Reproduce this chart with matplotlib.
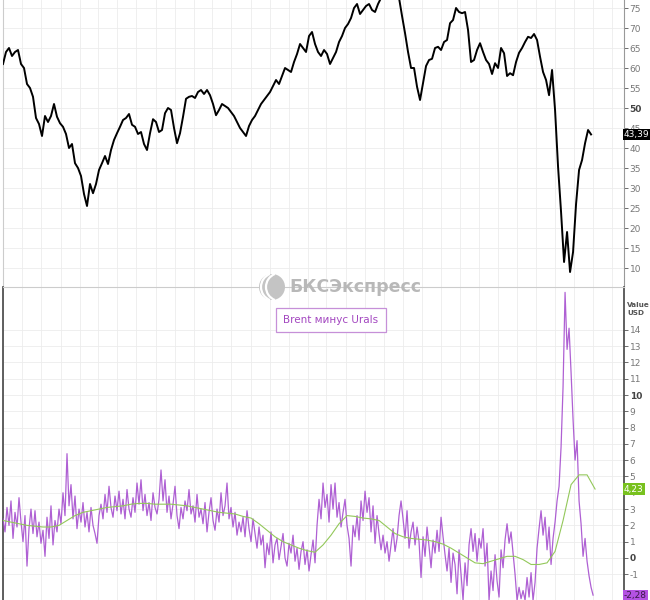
import numpy as np
import pandas as pd
import matplotlib.pyplot as plt
import matplotlib.dates as mdates
from matplotlib.patches import Ellipse, Arc

plt.rcParams["font.family"] = ["DejaVu Sans"]
plt.rcParams["axes.unicode_minus"] = False

# Urals, USD/bbl (about every 10 days)
urals = [61, 64, 65, 63, 64, 64.5, 61, 60, 56, 55,
         52.8, 47.5, 46, 43, 48, 46.5, 48, 51, 47.8, 46.2,
         45.3, 43.5, 40, 41, 36.2, 35, 33, 28.5, 25.5, 31,
         28.7, 31, 34.5, 36.2, 38, 36, 39.5, 42, 43.7, 45.3,
         47, 47.5, 48.5, 45.8, 45.3, 43.5, 44, 41, 39.5, 43.7,
         47.2, 46.5, 44, 44.5, 48.7, 50, 49.5, 45, 41.2, 43.7,
         47.8, 52.3, 52.8, 53, 52.5, 54, 54.5, 53.5, 54.5, 53.2,
         51, 48.2, 49.5, 51, 50.5, 50, 49, 48, 46.5, 45,
         44, 43, 45.5, 47, 48, 49.5, 51, 52, 53, 54,
         55.5, 57, 56, 58, 60, 59.5, 59, 61.5, 63.5, 66,
         65, 64, 68, 69, 66, 64, 63, 64.5, 63.5, 61,
         62.5, 64, 66.5, 68, 70, 71, 72.5, 75, 76, 73.5,
         74.5, 75.5, 76, 74.5, 74, 76, 77.5, 79, 80, 80.5,
         79, 78.5, 77.5, 73, 68.7, 64, 60, 60, 55.3, 52,
         56.2, 60.5, 62, 62.3, 65, 65.3, 64.5, 66.5, 67, 71.2,
         72, 75, 74, 73.7, 74, 69.5, 61.5, 62, 64.5, 66.2,
         64, 62, 61, 58.5, 61.2, 60, 65, 63.7, 58, 58.7,
         58.2, 61.5, 63.8, 65, 66.5, 67.8, 67.5, 68.5, 67, 62.8,
         59, 57, 53.2, 59.5, 49.5, 35.3, 24, 11.5, 19, 9,
         14, 26, 34.5, 37, 41.2, 44.5, 43.39]

# Brent minus Urals, USD (about every 6 days)
spread = [2.4, 1.6, 3.1, 2.0, 3.5, 1.2, 2.8, 1.9, 3.7, 2.2,
          1.0, 2.6, -0.5, 1.8, 3.0, 1.5, 2.9, 1.3, 2.2, 0.9,
          1.7, 0.1, 2.5, 1.2, 3.2, 0.8, 2.3, 1.6, 3.0, 2.1,
          4.0, 2.6, 6.4, 3.2, 4.5, 2.4, 3.8, 1.8, 3.0, 2.2,
          3.4, 1.9, 2.8, 1.6, 3.1, 2.0, 1.5, 0.9, 2.6, 3.3,
          2.4, 3.9, 2.8, 4.4, 3.1, 2.5, 3.8, 2.9, 4.1, 2.7,
          3.6, 2.4, 4.2, 3.0, 2.5, 3.7, 2.8, 4.6, 3.3, 4.8,
          2.9, 3.9, 2.6, 3.4, 2.3, 4.0, 3.1, 2.7, 3.6, 5.4,
          3.5, 4.8, 2.8, 3.8, 2.4, 3.3, 4.4, 2.6, 1.8, 3.1,
          2.4, 3.5, 2.9, 4.2, 2.7, 3.2, 2.2, 3.9, 2.5, 3.0,
          2.1, 3.4, 1.6, 2.8, 3.7, 2.3, 1.7, 3.0, 2.2, 4.0,
          2.6, 3.2, 4.6, 2.4, 3.1, 1.9, 2.8, 1.4, 2.2, 1.6,
          2.5, 1.3, 2.9, 1.8, 1.0, 2.4, 1.5, 0.6, 1.9, 0.8,
          1.4, -0.6, 0.9, 0.2, 1.6, -0.3, 0.8, 1.2, -0.1, 0.7,
          1.5, 0.0, -0.5, 0.9, 0.3, 1.4, -0.2, 0.6, -0.7, 0.4,
          1.0, -0.4, 0.5, -0.8, 0.2, 1.1, -0.3, 2.0, 3.6, 2.4,
          4.6, 3.1, 3.9, 2.2, 4.5, 3.0, 4.6, 2.5, 3.4, 1.9,
          2.8, 3.6, 2.0, 1.2, -0.5, 2.0, 1.3, 2.6, 1.1, 3.5,
          2.3, 4.1, 2.8, 3.7, 1.6, 3.2, 0.9, 2.6, 1.5, 0.5,
          1.4, 0.3, 1.0, -0.2, 0.8, 1.8, 0.4, 1.2, 2.6, 3.5,
          2.4, 1.2, 2.9, 0.6, 1.6, 2.2, 0.8, 1.9, 1.0, -1.2,
          1.3, 0.1, 1.9, 0.7, -0.6, 1.1, 0.3, 1.7, 0.4, 2.5,
          1.3, 0.2, -0.8, 0.6, -1.5, 0.3, -0.4, -2.2, 0.5, -1.0,
          -2.6, -0.3, -1.7, 0.8, 1.8, 0.4, 1.5, -0.2, 1.2, 0.6,
          1.8, -0.5, 0.9, -2.6, -0.8, -2.0, 0.2, -1.4, -2.4, 0.5,
          -0.6, 1.1, 2.1, 0.9, 1.6, 0.3, -1.0, -2.6, -1.8, -2.5,
          -2.0, -2.6, -1.2, -2.4, -0.9, -2.6, -1.5, 0.6, 1.8, 2.9,
          1.4, 2.5, 0.5, 1.9, -0.4, 1.2, 2.2, 3.5, 4.4, 6.8,
          10.5, 16.3, 12.8, 14.1, 11.4, 8.5, 6.0, 7.2, 3.5, 2.1,
          0.1, 1.2, -0.2, -1.1, -1.8, -2.28]

# moving average of the spread (about every 26 days)
spread_ma = [2.3, 2.2, 2.1, 2.0, 1.95, 1.9, 1.9, 2.0, 2.3, 2.6,
             2.8, 2.9, 3.0, 3.1, 3.15, 3.2, 3.3, 3.35, 3.35, 3.3,
             3.3, 3.3, 3.25, 3.2, 3.1, 3.0, 2.9, 2.8, 2.75, 2.7,
             2.55, 2.45, 2.1, 1.7, 1.3, 1.0, 0.8, 0.6, 0.45, 0.35,
             0.8, 1.4, 2.1, 2.6, 2.55, 2.45, 2.4, 2.3, 1.9, 1.5,
             1.3, 1.2, 1.15, 1.1, 1.0, 0.85, 0.6, 0.3, 0.0, -0.3,
             -0.35, -0.2, -0.05, 0.1, 0.1, -0.1, -0.4, -0.4, -0.3, 0.4,
             2.3, 4.5, 5.1, 5.1, 4.23]

urals_ticks = list(range(10, 80, 5))
spread_ticks = list(range(-1, 15))

start = pd.Timestamp("2015-05-01")
t_urals = start + pd.to_timedelta(np.arange(len(urals)) * 9.6, unit="D")
t_spread = start + pd.to_timedelta(np.arange(len(spread)) * 6.4, unit="D")
t_ma = start + pd.to_timedelta(np.arange(len(spread_ma)) * 25.6, unit="D")
t_end = start + pd.Timedelta(days=1987)

fig = plt.figure(figsize=(6.5, 6), dpi=100)
ax1 = fig.add_axes([3 / 650, 313 / 600, 621 / 650, 287 / 600])
ax2 = fig.add_axes([3 / 650, 0, 621 / 650, 313 / 600])

grid_kw = dict(color="#ececec", linewidth=0.6)

# верхняя панель
ax1.plot(t_urals, urals, color="black", linewidth=1.4, zorder=3)
ax1.set_ylim(5.25, 77)
ax1.set_yticks(urals_ticks)

# нижняя панель
ax2.plot(t_spread, spread, color="#a64fcf", linewidth=0.9, alpha=0.9, zorder=3)
ax2.plot(t_ma, spread_ma, color="#93c85a", linewidth=0.8, zorder=4)
ax2.set_ylim(-2.58, 16.63)
ax2.set_yticks(spread_ticks)

for ax in (ax1, ax2):
    ax.set_xlim(start, t_end)
    ax.xaxis.set_major_locator(mdates.MonthLocator(bymonth=[1, 3, 5, 7, 9, 11]))
    ax.tick_params(axis="x", bottom=False, labelbottom=False)
    ax.yaxis.tick_right()
    ax.tick_params(axis="y", length=3, width=0.6, colors="#555555",
                   labelsize=6.5, labelcolor="#777777", pad=1)
    ax.grid(True, **grid_kw)
    ax.set_axisbelow(True)
    ax.spines["top"].set_visible(False)
    ax.spines["left"].set_color("#cccccc")
    ax.spines["right"].set_color("#999999")
    ax.spines["bottom"].set_visible(False)
    ax.set_facecolor("white")

ax2.spines["top"].set_visible(True)
ax2.spines["top"].set_color("#cccccc")
ax2.spines["left"].set_color("#444444")
ax2.spines["left"].set_linewidth(1.2)
ax2.spines["right"].set_color("#444444")
ax2.spines["right"].set_linewidth(1.2)

for lab in ax1.get_yticklabels():
    if lab.get_text() == "50":
        lab.set_fontweight("bold")
        lab.set_color("#444444")
for lab in ax2.get_yticklabels():
    if lab.get_text() in ("10", "0"):
        lab.set_fontweight("bold")
        lab.set_color("#444444")

# последние значения справа
ax1.text(1.0, urals[-1], "43,39", transform=ax1.get_yaxis_transform(),
         ha="left", va="center", fontsize=6.5, color="white", clip_on=False,
         bbox=dict(boxstyle="square,pad=0.15", fc="black", ec="none"), zorder=6)
ax2.text(1.0, spread_ma[-1], "4,23", transform=ax2.get_yaxis_transform(),
         ha="left", va="center", fontsize=6.5, color="white", clip_on=False,
         bbox=dict(boxstyle="square,pad=0.15", fc="#78c11e", ec="none"), zorder=6)
ax2.text(1.0, -2.3, "-2,28", transform=ax2.get_yaxis_transform(),
         ha="left", va="center", fontsize=6.5, color="#3a1a48", clip_on=False,
         bbox=dict(boxstyle="square,pad=0.15", fc="#b452e2", ec="none"), zorder=6)

fig.text(627 / 650, 1 - 309 / 600, "Value\nUSD", ha="left", va="center",
         fontsize=5.2, fontweight="bold", color="#555555", linespacing=1.4)

# логотип
fig.patches.append(Ellipse((272 / 650, 1 - 287 / 600), 26 / 650, 26 / 600,
                           transform=fig.transFigure, fc="#c4c4c4", ec="none", zorder=5))
for dx in (3, 8):
    fig.patches.append(Arc(((272 + dx) / 650, 1 - 287 / 600), 28 / 650, 28 / 600,
                           theta1=110, theta2=250, transform=fig.transFigure,
                           color="white", linewidth=1.6, zorder=6))
fig.text(289 / 650, 1 - 287 / 600, "БКСЭкспресс", ha="left", va="center",
         fontsize=12.5, fontweight="bold", color="#b8b8b8", zorder=7)

fig.text(331 / 650, 1 - 320 / 600, "Brent минус Urals", ha="center", va="center",
         fontsize=7.5, color="#a347c0", zorder=7,
         bbox=dict(boxstyle="square,pad=0.7", fc="white", ec="#c690d8", lw=0.9))

fig.savefig("out.png", dpi=100)
